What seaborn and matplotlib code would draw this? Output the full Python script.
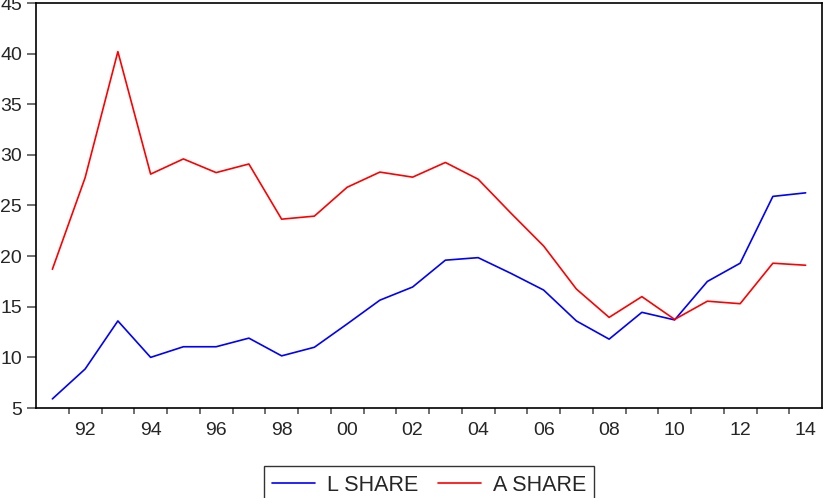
import pandas as pd
import numpy as np
import matplotlib
matplotlib.use('Agg')
import matplotlib.pyplot as plt
import seaborn as sns

years = list(range(1991, 2015))
l_share = [5.9, 8.85, 13.6, 10.0, 11.05, 11.05, 11.9, 10.15, 11.0, 13.3, 15.65, 16.95,
           19.6, 19.85, 18.3, 16.65, 13.6, 11.8, 14.45, 13.7, 17.5, 19.3, 25.9, 26.25]
a_share = [18.7, 27.75, 40.2, 28.1, 29.6, 28.25, 29.1, 23.65, 23.95, 26.8, 28.3, 27.8,
           29.25, 27.6, 24.25, 21.0, 16.75, 13.95, 16.0, 13.75, 15.55, 15.3, 19.3, 19.1]
series_names = ['L SHARE', 'A SHARE']
y_ticks = [5, 10, 15, 20, 25, 30, 35, 40, 45]
x_labels = ['92', '94', '96', '98', '00', '02', '04', '06', '08', '10', '12', '14']

df = pd.DataFrame({'year': years * 2,
                   'value': l_share + a_share,
                   'series': [series_names[0]] * len(years) + [series_names[1]] * len(years)})

sns.set_style('white')
plt.rcParams['font.family'] = ['Liberation Sans', 'DejaVu Sans']

fig = plt.figure(figsize=(8.23, 4.98), dpi=100)
ax = fig.add_axes([36 / 823, 90 / 498, 786 / 823, 405 / 498])

sns.lineplot(data=df, x='year', y='value', hue='series', hue_order=series_names,
             palette={'L SHARE': '#0000ff', 'A SHARE': '#ff0000'}, linewidth=1.2, ax=ax)

ax.set_xlim(1990.5, 2014.5)
ax.set_ylim(5, 45)
ax.set_xlabel('')
ax.set_ylabel('')

ax.set_yticks(y_ticks)
ax.set_yticklabels([str(v) for v in y_ticks])
ax.set_xticks(list(range(1992, 2015, 2)))
ax.set_xticklabels(x_labels)
ax.set_xticks(np.arange(1991.5, 2014, 1), minor=True)

ax.tick_params(axis='y', which='major', direction='out', length=6.5, width=1.2,
               color='#555555', pad=3.5, labelsize=14, left=True)
ax.tick_params(axis='x', which='major', length=0, pad=10, labelsize=14)
ax.tick_params(axis='x', which='minor', direction='out', length=4.5, width=1.2,
               color='#555555', bottom=True)

for sp in ax.spines.values():
    sp.set_color('black')
    sp.set_linewidth(1.2)

leg = ax.legend(loc='upper center', bbox_to_anchor=(0.5, -0.143), ncol=2,
                frameon=True, fancybox=False, fontsize=15.5, handlelength=2.0,
                handletextpad=0.55, columnspacing=0.9, borderpad=0.4,
                borderaxespad=0)
leg.get_frame().set_edgecolor('black')
leg.get_frame().set_linewidth(1.0)

fig.savefig('out.png', dpi=100)
